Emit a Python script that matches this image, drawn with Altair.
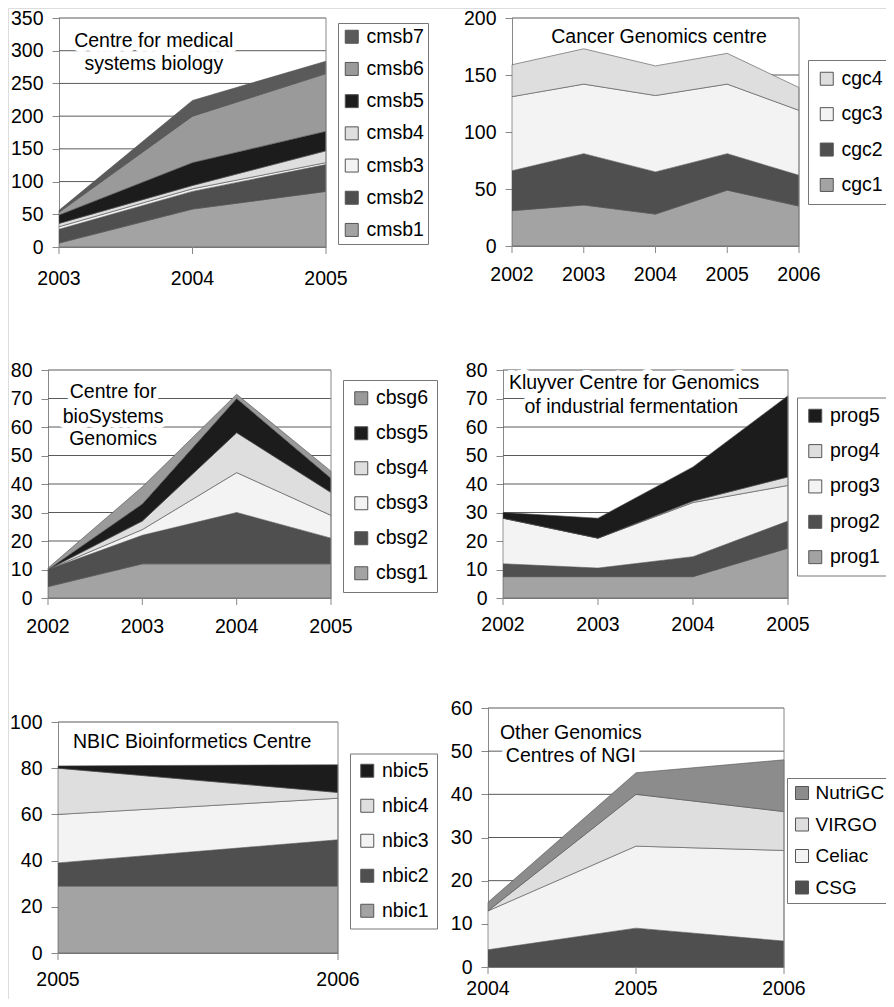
import altair as alt
import pandas as pd

FONT = "Liberation Sans"
FS = 19.5
W, H = 878, 991

# ---------------- data ----------------
cmsb_years = [2003, 2004, 2005]
cmsb_names = ["cmsb1", "cmsb2", "cmsb3", "cmsb4", "cmsb5", "cmsb6", "cmsb7"]
cmsb1 = [6, 58, 85]
cmsb2 = [21, 27, 41]
cmsb3 = [4, 4, 3]
cmsb4 = [5, 5, 18]
cmsb5 = [13, 35, 30]
cmsb6 = [4, 71, 88]
cmsb7 = [3, 24, 19]
cmsb_ticks = [0, 50, 100, 150, 200, 250, 300, 350]

cgc_years = [2002, 2003, 2004, 2005, 2006]
cgc_names = ["cgc1", "cgc2", "cgc3", "cgc4"]
cgc1 = [31, 36, 28, 49, 35]
cgc2 = [35, 45, 37, 32, 27]
cgc3 = [65, 61, 67, 61, 57]
cgc4 = [28, 31, 26, 27, 20]
cgc_ticks = [0, 50, 100, 150, 200]

cbsg_years = [2002, 2003, 2004, 2005]
cbsg_names = ["cbsg1", "cbsg2", "cbsg3", "cbsg4", "cbsg5", "cbsg6"]
cbsg1 = [4, 12, 12, 12]
cbsg2 = [6, 10, 18, 9]
cbsg3 = [0, 2, 14, 8]
cbsg4 = [0, 3, 14, 8]
cbsg5 = [0, 6, 12, 5]
cbsg6 = [0.5, 6, 1.5, 2.5]
cbsg_ticks = [0, 10, 20, 30, 40, 50, 60, 70, 80]

prog_years = [2002, 2003, 2004, 2005]
prog_names = ["prog1", "prog2", "prog3", "prog4", "prog5"]
prog1 = [7.5, 7.5, 7.5, 17.5]
prog2 = [4.5, 3, 7, 9.5]
prog3 = [16, 10.5, 19, 12.5]
prog4 = [0, 0, 0.5, 3]
prog5 = [2, 7, 12, 28.5]
prog_ticks = [0, 10, 20, 30, 40, 50, 60, 70, 80]

nbic_years = [2005, 2006]
nbic_names = ["nbic1", "nbic2", "nbic3", "nbic4", "nbic5"]
nbic1 = [29, 29]
nbic2 = [10, 20]
nbic3 = [21, 18]
nbic4 = [20, 2.5]
nbic5 = [1, 12]
nbic_ticks = [0, 20, 40, 60, 80, 100]

ngi_years = [2004, 2005, 2006]
ngi_names = ["CSG", "Celiac", "VIRGO", "NutriGC"]
csg = [4, 9, 6]
celiac = [9, 19, 21]
virgo = [0, 12, 9]
nutrigc = [2, 5, 12]
ngi_ticks = [0, 10, 20, 30, 40, 50, 60]

# grey shades standing in for the original fill patterns
MID = "#a3a3a3"
DARK = "#4f4f4f"
DOTS = "#f3f3f3"
HATCH = "#dedede"
BLACK = "#1c1c1c"
MID2 = "#9a9a9a"
DARK2 = "#5a5a5a"


def panel(years, names, values, colors, ticks, xr, yr, leg, titles, xlab_dy,
          leg_fs=FS, leg_off=5, label_expr="datum.label"):
    rows = []
    for k, (n, vals) in enumerate(zip(names, values)):
        for yy, v in zip(years, vals):
            rows.append({"year": yy, "v": v, "s": n, "k": k})
    df = pd.DataFrame(rows)

    xs = alt.Scale(domain=[years[0], years[-1]], range=[xr[0], xr[1]], nice=False, zero=False)
    ys = alt.Scale(domain=[ticks[0], ticks[-1]], range=[yr[0], yr[1]], nice=False, zero=True)
    xaxis = alt.Axis(orient="bottom", offset=yr[0] - H, values=years, labels=False, ticks=False,
                     grid=False, title=None, domainColor="#888")
    yaxis = alt.Axis(orient="left", offset=-xr[0], values=ticks, tickCount=len(ticks) + 2,
                     grid=False, title=None,
                     labelFontSize=FS, labelFont=FONT, labelColor="black",
                     domainColor="#888", tickColor="#888", tickSize=7, labelPadding=9,
                     labelFlush=False, labelOverlap=False)

    def X(f):
        return alt.X(f, scale=xs, axis=xaxis)

    def Y(f, **kw):
        return alt.Y(f, scale=ys, axis=yaxis, **kw)

    gdf = pd.DataFrame({"g": ticks[1:], "year": years[0], "x1": years[-1]})
    grid = alt.Chart(gdf).mark_rule(color="#5a5a5a", strokeWidth=1).encode(
        x=X("year:Q"), x2="x1:Q", y=Y("g:Q"))

    lx, ly, pad, rp = leg
    area = alt.Chart(df).mark_area(stroke="#505050", strokeWidth=0.6).encode(
        x=X("year:Q"),
        y=Y("v:Q", stack="zero"),
        color=alt.Color("s:N", title=None,
                        scale=alt.Scale(domain=names[::-1], range=colors[::-1]),
                        legend=alt.Legend(orient="none", legendX=lx, legendY=ly, padding=pad,
                                          rowPadding=rp, strokeColor="#777", fillColor="white",
                                          labelFontSize=leg_fs, labelFont=FONT,
                                          labelColor="black", labelExpr=label_expr,
                                          symbolType="square", symbolSize=169,
                                          symbolStrokeColor="#555", symbolStrokeWidth=1,
                                          labelOffset=leg_off, labelLimit=300)),
        order=alt.Order("k:Q", sort="ascending"))

    fdf = pd.DataFrame({"year": [years[-1]], "y0": [ticks[0]], "y1": [ticks[-1]]})
    frame = alt.Chart(fdf).mark_rule(color="#888", strokeWidth=1).encode(
        x=X("year:Q"), y=Y("y0:Q"), y2="y1:Q")

    # year ticks and labels under the x axis
    xdf = pd.DataFrame({"year": years, "z": [ticks[0]] * len(years),
                        "lab": [str(y) for y in years]})
    xticks = alt.Chart(xdf).mark_rule(color="#888", strokeWidth=1, y2Offset=7).encode(
        x=X("year:Q"), y=Y("z:Q"), y2="z:Q")
    xlabels = alt.Chart(xdf).mark_text(font=FONT, fontSize=FS, color="black", baseline="top",
                                       align="center", dy=xlab_dy).encode(
        x=X("year:Q"), y=Y("z:Q"), text="lab:N")

    tdf = pd.DataFrame(titles, columns=["year", "v", "t"])
    halo = alt.Chart(tdf).mark_text(font=FONT, fontSize=FS, color="white", stroke="white",
                                    strokeWidth=10, strokeJoin="round", baseline="middle",
                                    align="center").encode(
        x=X("year:Q"), y=Y("v:Q"), text="t:N")
    text = alt.Chart(tdf).mark_text(font=FONT, fontSize=FS, color="black", baseline="middle",
                                    align="center").encode(
        x=X("year:Q"), y=Y("v:Q"), text="t:N")

    return alt.layer(grid, area, frame, xticks, xlabels, halo, text)


p1 = panel(cmsb_years, cmsb_names, [cmsb1, cmsb2, cmsb3, cmsb4, cmsb5, cmsb6, cmsb7],
           [MID, DARK, DOTS, HATCH, BLACK, MID2, DARK2], cmsb_ticks,
           (51, 318), (239, 10), (330, 15, 4, 11.2),
           [(2003.71, 315, "Centre for medical"), (2003.71, 280, "systems biology")], 23,
           label_expr="datum.label + '  '")
p2 = panel(cgc_years, cgc_names, [cgc1, cgc2, cgc3, cgc4],
           [MID, DARK, DOTS, HATCH], cgc_ticks,
           (504, 791), (238, 10), (800, 52, 9, 14.4),
           [(2004.05, 183.5, "Cancer Genomics centre")], 20)
p3 = panel(cbsg_years, cbsg_names, [cbsg1, cbsg2, cbsg3, cbsg4, cbsg5, cbsg6],
           [MID, DARK, DOTS, HATCH, BLACK, MID2], cbsg_ticks,
           (40, 323), (590, 362), (335, 372, 8.5, 14.0),
           [(2002.69, 72.3, "Centre for"), (2002.69, 63.5, "bioSystems"),
            (2002.69, 55.8, "Genomics")], 20)
p4 = panel(prog_years, prog_names, [prog1, prog2, prog3, prog4, prog5],
           [MID, DARK, DOTS, HATCH, BLACK], prog_ticks,
           (495, 780), (590, 362), (789, 389.5, 8.5, 14.35),
           [(2003.38, 75.4, "Kluyver Centre for Genomics"),
            (2003.35, 67.0, "of industrial fermentation")], 18)
p5 = panel(nbic_years, nbic_names, [nbic1, nbic2, nbic3, nbic4, nbic5],
           [MID, DARK, DOTS, HATCH, BLACK], nbic_ticks,
           (50, 330), (945, 714), (342, 745.5, 7.5, 14.0),
           [(2005.479, 91.3, "NBIC Bioinformetics Centre")], 18)
p6 = panel(ngi_years, ngi_names, [csg, celiac, virgo, nutrigc],
           [DARK, DOTS, HATCH, "#8c8c8c"], ngi_ticks,
           (480, 776), (959, 700), (779, 770, 5.5, 11.5),
           [(2004.56, 54.2, "Other Genomics"), (2004.56, 48.9, "Centres of NGI")], 13,
           leg_fs=19, leg_off=4)

chart = alt.layer(p1, p2, p3, p4, p5, p6).resolve_scale(
    x="independent", y="independent", color="independent"
).resolve_axis(x="independent", y="independent").resolve_legend(
    color="independent"
).properties(
    width=W, height=H, padding=0, autosize=alt.AutoSizeParams(type="none")
).configure_view(strokeWidth=0).configure(font=FONT, background="white")

chart.save("out.html", embed_options={"renderer": "svg", "actions": False})
